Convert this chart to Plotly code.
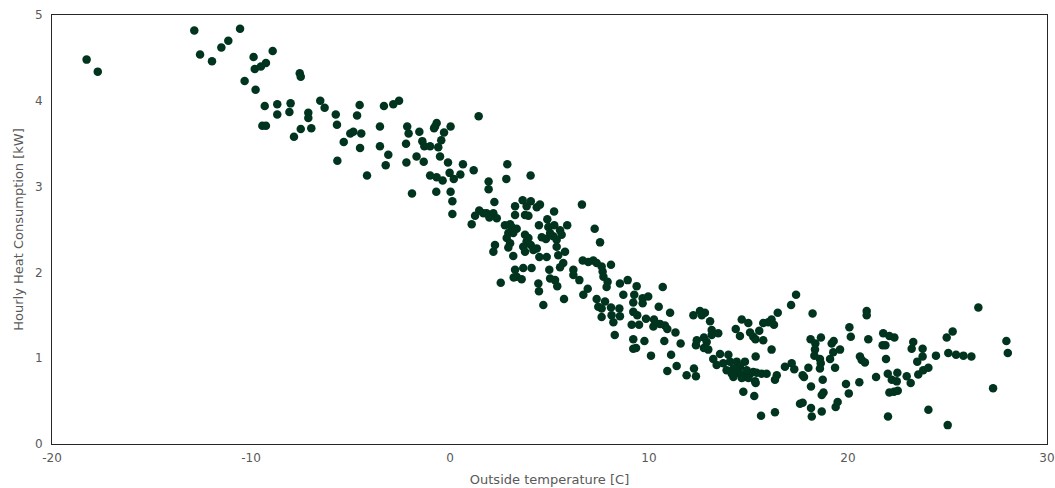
import plotly.graph_objects as go

# Outside temperature [C]
temp = [
    -18.26, -17.70, -12.85, -12.56, -11.96, -11.49, -11.14, -10.55, -9.87, -8.91,
    -9.81, -9.50, -9.25, -10.32, -9.77, -7.55, -7.50, -9.31, -8.68, -8.01,
    -8.68, -8.07, -9.43, -9.25, -7.84, -7.50,
    -6.52, -6.30, -7.12, -7.12, -6.97, -5.74, -5.68, -4.54, -4.67, -5.34,
    -5.01, -4.86, -4.46, -4.52, -5.66, -4.17, -3.32, -2.85, -2.56, -3.52,
    -3.52, -3.10, -3.23, -1.91, -2.21, -2.15, -2.08, -2.19, -1.68, -1.54,
    -1.39, -1.29, -1.00, -1.32, -0.67, -0.75, -0.80, -0.30, 0.03, -0.44,
    -0.59, -0.50, -0.10, -1.00, -0.67, -0.37, -0.69, -0.02, 0.19, 0.03,
    0.12, 0.12, 0.52, 0.65, 1.19, 1.44, 1.94, 1.94, 2.23, 2.88,
    2.83, 4.05,
    1.09, 1.26, 1.47, 1.68, 1.84, 2.18, 2.35, 1.98, 3.27, 3.65,
    4.06, 3.85, 4.52, 4.36, 3.27, 3.77, 3.94, 2.76, 3.02, 3.10,
    2.93, 3.35, 3.18, 4.47, 4.89, 4.94, 5.24, 5.53, 5.89, 5.61,
    5.03, 5.19, 4.61, 4.82, 5.36, 2.85, 3.02, 2.93, 2.26, 2.18,
    3.77, 3.94, 3.85, 3.68, 4.06, 4.19, 4.36, 3.77, 3.18, 4.49,
    4.86, 5.36, 5.44, 5.78, 5.69, 5.53, 3.27, 3.35, 3.68, 4.10,
    3.60, 3.20, 2.55, 4.44, 4.47, 4.99, 5.03, 5.28, 5.39, 6.20,
    6.20, 6.50, 5.73, 4.69,
    5.23, 6.63, 7.27, 7.54, 6.67, 6.95, 7.20, 7.37, 7.62, 8.09,
    7.67, 7.71, 7.92, 7.87, 6.92, 6.70, 8.54, 8.93, 9.38, 7.37,
    7.79, 7.45, 7.62, 8.09, 8.51, 7.62, 8.12, 8.54, 8.21, 8.71,
    9.26, 9.68, 9.96, 9.21, 9.68, 9.21, 9.41, 9.13, 9.50, 9.85,
    10.25, 10.22, 10.55, 10.80, 10.92, 10.49, 11.06, 11.33, 8.28, 9.21,
    9.77, 9.21, 9.35, 10.10, 10.77, 11.11, 11.59, 10.92, 11.39, 10.69,
    11.89, 12.26, 12.36,
    12.23, 12.56, 12.81, 12.65, 13.07, 13.15, 13.15, 13.48, 12.40, 12.76,
    12.90, 12.36, 12.76, 12.98, 14.36, 14.66, 14.99, 14.57, 15.08, 15.24,
    15.54, 15.74, 15.99, 16.16, 16.28, 16.47, 15.74, 16.16, 15.36, 17.14,
    17.39, 13.23, 13.57, 13.99, 13.40, 13.73, 14.07, 14.41, 14.82, 14.57,
    14.24, 13.90, 14.16, 14.32, 14.57, 14.91, 15.08, 14.82, 15.24, 15.41,
    15.66, 15.91, 15.33, 14.24, 14.66, 15.00, 16.42, 16.33, 16.83, 17.17,
    17.30, 14.74, 15.29, 15.36, 15.63, 16.33, 17.59, 15.35,
    18.22, 20.94, 20.94, 20.07, 20.14, 18.12, 18.64, 18.36, 18.34, 18.31,
    18.59, 18.63, 18.59, 19.18, 19.28, 19.26, 19.60, 19.10, 19.35, 18.01,
    17.72, 17.79, 18.73, 18.14, 18.77, 18.68, 17.72, 18.14, 18.18, 18.68,
    19.38, 19.48, 19.90, 20.04, 20.57, 21.02, 20.60, 20.69, 20.85, 21.41,
    21.77, 22.08, 22.33, 21.74, 21.88, 21.91, 22.00, 22.48, 22.20, 22.45,
    22.08, 22.31, 22.50, 22.01, 22.95, 23.15, 23.28, 23.20, 23.75, 23.75,
    23.48, 23.53, 23.78, 24.04, 24.42, 24.04, 24.96, 25.26, 25.04, 25.43,
    25.80, 26.20, 25.01, 26.55, 27.29, 27.96, 28.03,
]

# Hourly Heat Consumption [kW]
heat = [
    4.48, 4.34, 4.82, 4.54, 4.46, 4.62, 4.70, 4.84, 4.51, 4.58,
    4.37, 4.40, 4.44, 4.23, 4.13, 4.32, 4.28, 3.94, 3.96, 3.97,
    3.84, 3.87, 3.71, 3.71, 3.58, 3.67,
    4.00, 3.92, 3.86, 3.80, 3.68, 3.84, 3.72, 3.95, 3.83, 3.52,
    3.62, 3.64, 3.62, 3.45, 3.30, 3.13, 3.94, 3.96, 4.00, 3.70,
    3.47, 3.37, 3.25, 2.92, 3.50, 3.70, 3.62, 3.28, 3.35, 3.64,
    3.53, 3.47, 3.47, 3.29, 3.74, 3.70, 3.68, 3.63, 3.70, 3.54,
    3.46, 3.35, 3.28, 3.13, 3.11, 3.07, 2.94, 3.16, 3.09, 2.94,
    2.83, 2.68, 3.14, 3.26, 3.19, 3.82, 3.06, 2.97, 2.82, 3.26,
    3.09, 3.13,
    2.56, 2.66, 2.72, 2.69, 2.69, 2.69, 2.63, 2.64, 2.77, 2.84,
    2.83, 2.77, 2.79, 2.76, 2.67, 2.67, 2.66, 2.55, 2.56, 2.53,
    2.46, 2.51, 2.46, 2.55, 2.62, 2.53, 2.55, 2.49, 2.55, 2.44,
    2.46, 2.42, 2.41, 2.39, 2.38, 2.40, 2.34, 2.29, 2.32, 2.24,
    2.44, 2.40, 2.36, 2.30, 2.32, 2.26, 2.28, 2.24, 2.19, 2.18,
    2.18, 2.30, 2.20, 2.24, 2.11, 2.06, 2.03, 1.95, 2.05, 2.05,
    1.92, 1.94, 1.88, 1.87, 1.78, 2.03, 1.93, 1.91, 1.84, 2.03,
    1.97, 1.91, 1.69, 1.62,
    2.71, 2.79, 2.51, 2.35, 2.14, 2.12, 2.14, 2.11, 2.07, 2.09,
    2.01, 1.95, 1.89, 1.83, 1.81, 1.74, 1.87, 1.91, 1.84, 1.69,
    1.66, 1.60, 1.58, 1.59, 1.58, 1.48, 1.50, 1.49, 1.42, 1.74,
    1.74, 1.70, 1.72, 1.65, 1.64, 1.54, 1.50, 1.39, 1.39, 1.46,
    1.45, 1.37, 1.40, 1.38, 1.34, 1.60, 1.53, 1.30, 1.27, 1.22,
    1.20, 1.11, 1.12, 1.03, 1.20, 1.04, 1.17, 0.85, 0.91, 1.83,
    0.80, 0.88, 0.79,
    1.50, 1.55, 1.53, 1.50, 1.43, 1.33, 1.27, 1.29, 1.21, 1.24,
    1.19, 1.15, 1.12, 1.10, 1.34, 1.45, 1.41, 1.26, 1.30, 1.25,
    1.32, 1.41, 1.42, 1.45, 1.39, 1.53, 1.21, 1.10, 1.02, 1.62,
    1.74, 0.99, 1.05, 1.04, 0.92, 0.94, 0.96, 0.96, 0.96, 0.90,
    0.88, 0.86, 0.82, 0.84, 0.82, 0.86, 0.82, 0.78, 0.84, 0.83,
    0.82, 0.82, 0.73, 0.78, 0.77, 0.77, 0.80, 0.75, 0.90, 0.94,
    0.87, 0.61, 0.56, 0.71, 0.33, 0.37, 0.47, 1.22,
    1.52, 1.55, 1.50, 1.36, 1.25, 1.22, 1.24, 1.17, 1.10, 1.03,
    0.99, 0.94, 0.88, 1.17, 1.20, 1.07, 1.10, 0.99, 0.89, 0.89,
    0.80, 0.78, 0.75, 0.67, 0.60, 0.57, 0.48, 0.42, 0.32, 0.38,
    0.43, 0.49, 0.70, 0.59, 0.72, 1.22, 1.02, 0.98, 0.95, 0.78,
    1.29, 1.26, 1.24, 1.15, 1.15, 0.99, 0.82, 0.83, 0.75, 0.73,
    0.60, 0.61, 0.62, 0.32, 0.79, 0.71, 1.19, 1.11, 1.11, 1.02,
    0.96, 0.81, 0.86, 0.89, 1.03, 0.40, 1.24, 1.31, 1.06, 1.04,
    1.03, 1.02, 0.22, 1.59, 0.65, 1.20, 1.06,
]

x_ticks = [-20, -10, 0, 10, 20, 30]
y_ticks = [0, 1, 2, 3, 4, 5]

FONT = "'DejaVu Sans', sans-serif"
TXT = "#595959"

fig = go.Figure(
    go.Scatter(
        x=temp, y=heat, mode="markers",
        marker=dict(color="#01341f", size=8.5, line=dict(width=0)),
        showlegend=False,
    )
)

fig.update_layout(
    width=1055, height=488,
    margin=dict(l=52, r=8, t=15, b=44, autoexpand=False),
    paper_bgcolor="white", plot_bgcolor="white",
    font=dict(family=FONT, size=12, color=TXT),
)
fig.update_xaxes(
    range=[-20, 30], tickvals=x_ticks, ticktext=[str(v) for v in x_ticks],
    showgrid=False, zeroline=False, showline=True, mirror=True,
    linecolor="#262626", linewidth=1, ticks="", ticklabelstandoff=3,
    tickfont=dict(size=12, color=TXT), automargin=False,
    title=dict(text="Outside temperature [C]", standoff=10,
               font=dict(size=13, color=TXT)),
)
fig.update_yaxes(
    range=[0, 5], tickvals=y_ticks, ticktext=[str(v) for v in y_ticks],
    showgrid=False, zeroline=False, showline=True, mirror=True,
    linecolor="#262626", linewidth=1, ticks="", ticklabelstandoff=6,
    tickfont=dict(size=12, color=TXT), automargin=False,
    title=dict(text="Hourly Heat Consumption [kW]", standoff=8,
               font=dict(size=13, color=TXT)),
)

fig.write_html(
    "out.html",
    config={"displayModeBar": False},
    post_script="document.body.style.margin='0';document.body.style.padding='0';",
)
